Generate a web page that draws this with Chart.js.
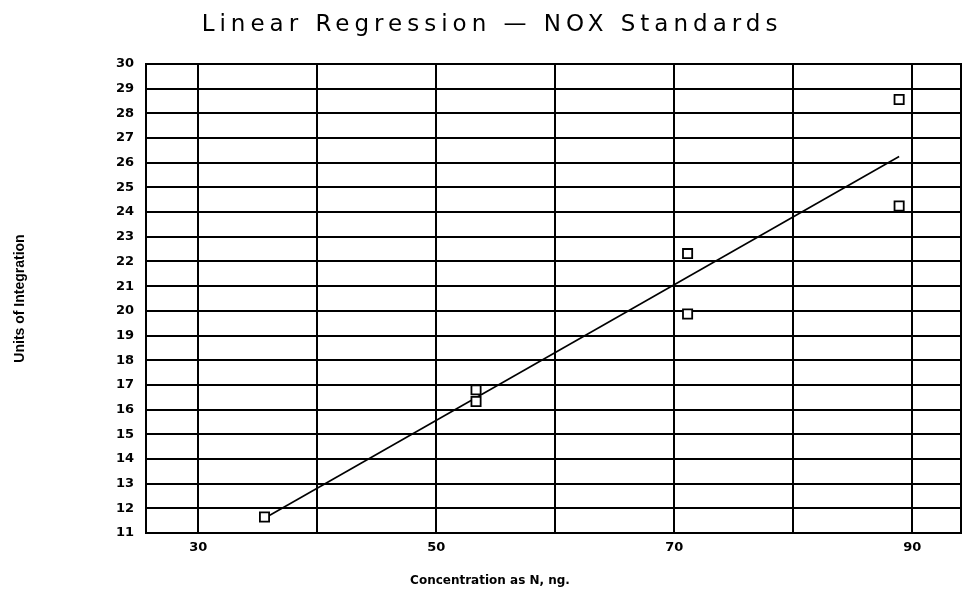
<!DOCTYPE html>
<html>
<head>
<meta charset="utf-8">
<script src="https://cdn.jsdelivr.net/npm/chart.js@4.4.1/dist/chart.umd.min.js"></script>
<style>
  body { margin: 0; background: #fff; }
</style>
</head>
<body>
<canvas id="nox_chart" width="963" height="596"></canvas>
<script>
const chart_title = "Linear Regression \u2014 NOX Standards";
const x_title = "Concentration as N, ng.";
const y_title = "Units of Integration";

const conc = [35.56, 53.34, 53.34, 71.12, 71.12, 88.9, 88.9];
const units = [11.65, 16.8, 16.33, 22.32, 19.87, 28.56, 24.25];

// fitted line end points
const fit_x = [35.56, 88.9];
const fit_y = [11.6, 26.25];

const x_ticks = [30, 40, 50, 60, 70, 80, 90];
const x_labels = [30, 50, 70, 90];

const points = conc.map((x, i) => ({ x: x, y: units[i] }));
const fit_line = fit_x.map((x, i) => ({ x: x, y: fit_y[i] }));

// frame round the plot and the two free-standing titles
const frame = {
  id: "frame",
  beforeDatasetsDraw(chart) {
    const { ctx, chartArea: a } = chart;
    ctx.save();
    ctx.strokeStyle = "#000";
    ctx.lineWidth = 2;
    ctx.strokeRect(a.left, a.top, a.right - a.left, a.bottom - a.top);
    ctx.restore();
  },
  afterDraw(chart) {
    const ctx = chart.ctx;
    ctx.save();
    ctx.fillStyle = "#000";
    ctx.textAlign = "center";
    ctx.textBaseline = "alphabetic";
    ctx.font = "23px 'DejaVu Sans'";
    ctx.letterSpacing = "5px";
    ctx.fillText(chart_title, 492, 31);
    ctx.letterSpacing = "0px";
    ctx.font = "bold 12px 'DejaVu Sans'";
    ctx.fillText(x_title, 490, 584);
    ctx.restore();
  },
};

const nox_ctx = document.getElementById("nox_chart");

const nox_config = {
  type: "scatter",
  data: {
    datasets: [
      {
        data: points,
        pointStyle: "rect",
        pointRadius: 6.5,
        pointHoverRadius: 6.5,
        pointBorderWidth: 1.8,
        borderColor: "#000",
        backgroundColor: "#fff",
      },
      {
        data: fit_line,
        showLine: true,
        pointRadius: 0,
        borderColor: "#000",
        borderWidth: 1.6,
      },
    ],
  },
  options: {
    responsive: false,
    animation: false,
    layout: {
      autoPadding: false,
      padding: { top: 64, right: 2, bottom: 33, left: 0 },
    },
    plugins: {
      legend: { display: false },
      tooltip: { enabled: false },
    },
    scales: {
      x: {
        type: "linear",
        min: 25.6,
        max: 94.1,
        afterBuildTicks: (scale) => {
          scale.ticks = x_ticks.map((v) => ({ value: v }));
        },
        afterFit: (scale) => {
          scale.height = 30;
          scale.paddingLeft = 0;
          scale.paddingRight = 0;
        },
        grid: { color: "#000", lineWidth: 2, drawTicks: false },
        border: { display: true, color: "#000", width: 2 },
        ticks: {
          color: "#000",
          padding: 7,
          maxRotation: 0,
          font: { family: "'DejaVu Sans'", size: 13, weight: "bold" },
          callback: (v) => (x_labels.includes(v) ? String(v) : ""),
        },
      },
      y: {
        min: 11,
        max: 30,
        afterFit: (scale) => {
          scale.width = 146;
        },
        grid: { color: "#000", lineWidth: 2, drawTicks: false },
        border: { display: true, color: "#000", width: 2 },
        ticks: {
          stepSize: 1,
          color: "#000",
          padding: 12,
          font: { family: "'DejaVu Sans'", size: 13, weight: "bold" },
        },
        title: {
          display: true,
          text: y_title,
          color: "#000",
          padding: { top: 12, bottom: 0 },
          font: { family: "'Liberation Sans'", size: 14, weight: "bold" },
        },
      },
    },
  },
  plugins: [frame],
};

const nox_chart = new Chart(nox_ctx, nox_config);
</script>
</body>
</html>
